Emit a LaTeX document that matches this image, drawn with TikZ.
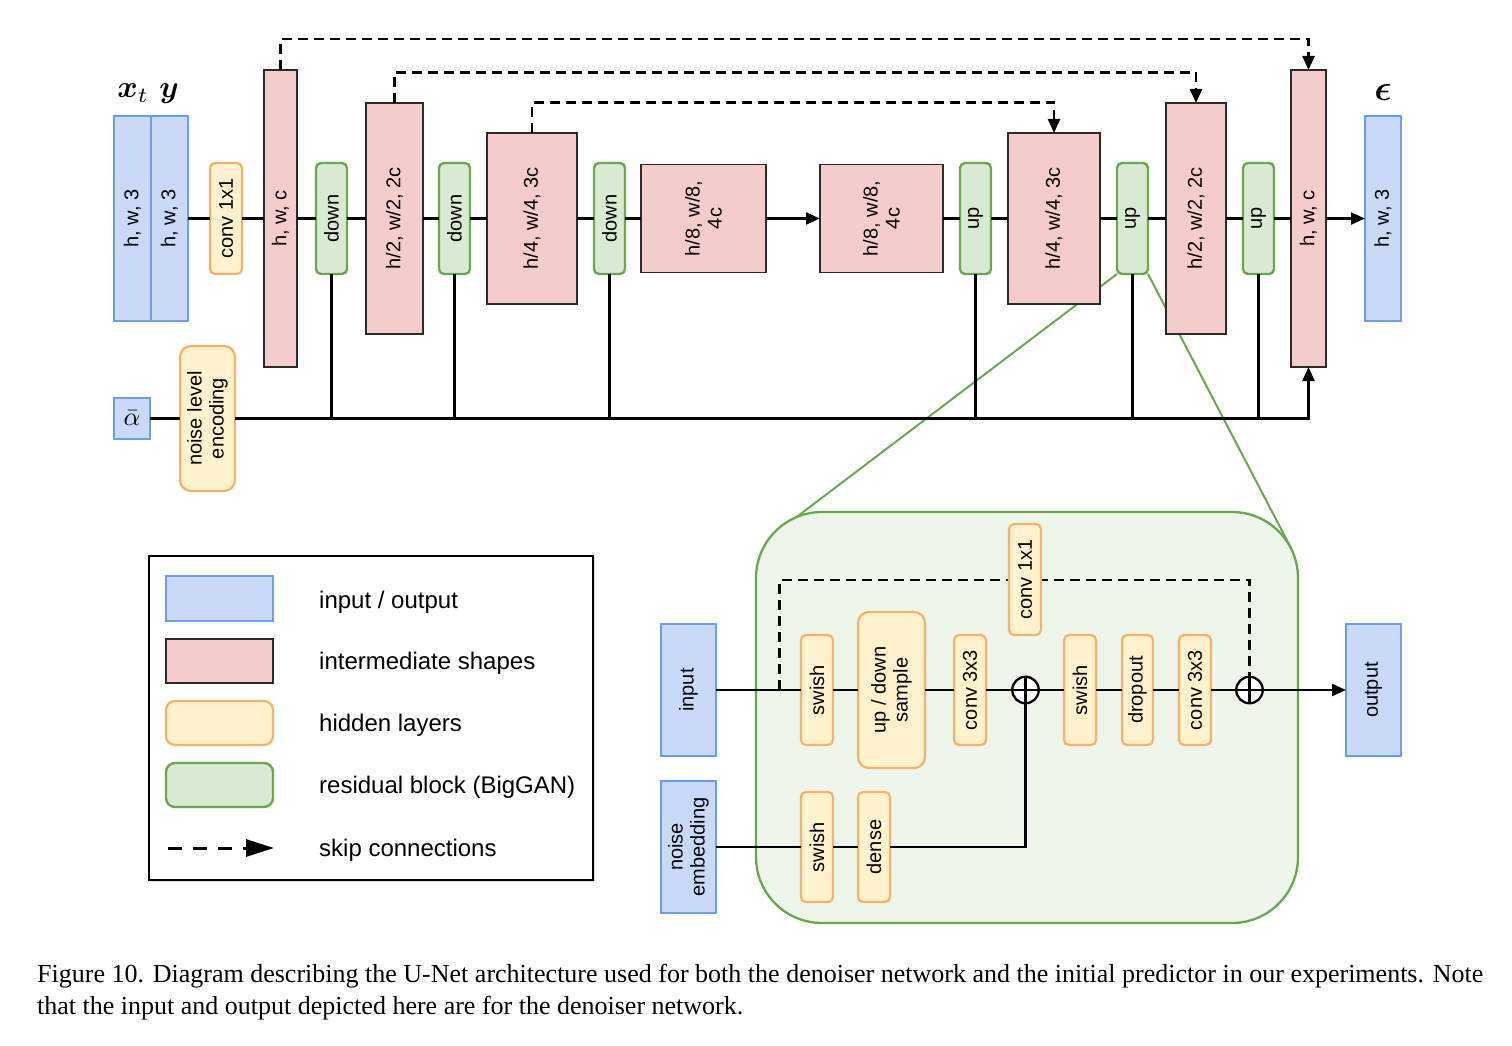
\documentclass[tikz,border=0pt]{standalone}
\usepackage{amsmath}
\usepackage{graphicx}
\usepackage{fontspec}
\setmainfont{Liberation Serif}
\setsansfont{Liberation Sans}
\usetikzlibrary{arrows.meta,shadows}

\definecolor{iofill}{HTML}{C9DAF8}
\definecolor{ioline}{HTML}{6D9EEB}
\definecolor{shpfill}{HTML}{F4CCCC}
\definecolor{shpline}{HTML}{2B2B2B}
\definecolor{hidfill}{HTML}{FFF2CC}
\definecolor{hidline}{HTML}{F6B26B}
\definecolor{resfill}{HTML}{D9EAD3}
\definecolor{resline}{HTML}{6AA84F}
\definecolor{zoomfill}{HTML}{EEF5EA}

\pgfdeclarelayer{bg}
\pgfsetlayers{bg,main}

\tikzset{
  box/.style={inner sep=0pt, outer sep=0pt},
  io/.style={box, draw=ioline, fill=iofill, line width=2.2pt},
  shp/.style={box, draw=shpline, fill=shpfill, line width=1.6pt},
  hid/.style={box, draw=hidline, fill=hidfill, line width=2.2pt, rounded corners=5pt},
  hidbig/.style={hid, rounded corners=11pt},
  res/.style={box, draw=resline, fill=resfill, line width=2.4pt, rounded corners=5pt},
  lbl/.style={rotate=90, align=center, inner sep=0pt, font=\sffamily\fontsize{20}{22}\selectfont},
  conn/.style={line width=2.3pt},
  tip/.style={-{Triangle[length=14pt,width=12pt]}},
  skipline/.style={line width=2.4pt, dash pattern=on 10pt off 6pt},
  plus/.style={circle, draw, fill=white, line width=2.3pt, minimum size=26.5pt, inner sep=0pt,
    path picture={\draw[line width=2.2pt]
      (path picture bounding box.north) -- (path picture bounding box.south)
      (path picture bounding box.west) -- (path picture bounding box.east);}},
  lgtext/.style={anchor=base west, inner sep=0pt, font=\sffamily\fontsize{24}{28}\selectfont},
  mathlbl/.style={anchor=base, inner sep=0pt},
  captext/.style={anchor=base west, inner sep=0pt, font=\rmfamily\fontsize{26}{30}\selectfont},
}

% block: style, name, x1, y1, x2, y2, rotated label
\newcommand\ublock[7]{%
  \node[#1, minimum width={#5-#3}, minimum height={#6-#4}] (#2) at ({(#3+#5)/2},{(#4+#6)/2}) {};
  \node[lbl] (#2-t) at (#2.center) {#7};}

\begin{document}
\begin{tikzpicture}[x=1pt, y=-1pt]
\useasboundingbox (0,0) rectangle (1512,1046);

% ---------------- U-Net ----------------
\ublock{io}{xt}{114}{116}{151}{321}{h, w, 3}
\ublock{io}{yb}{151}{116}{188}{321}{h, w, 3}
\ublock{hid}{conv}{210}{163}{242}{274}{conv 1x1}
\ublock{shp}{s1}{264}{70}{297}{367}{h, w, c}
\ublock{res}{d1}{316}{163}{347}{274}{down}
\ublock{shp}{s2}{366}{103}{423}{334}{h/2, w/2, 2c}
\ublock{res}{d2}{439}{163}{470}{274}{down}
\ublock{shp}{s3}{487}{133}{577}{304}{h/4, w/4, 3c}
\ublock{res}{d3}{594}{163}{625}{274}{down}
\ublock{shp}{s4}{641}{164.5}{766}{272.5}{h/8, w/8,\\4c}
\ublock{shp}{s5}{820}{164.5}{943}{272.5}{h/8, w/8,\\4c}
\ublock{res}{u1}{960}{163}{991}{274}{up}
\ublock{shp}{s6}{1008}{133}{1100}{304}{h/4, w/4, 3c}
\ublock{res}{u2}{1117}{163}{1148}{274}{up}
\ublock{shp}{s7}{1166}{103}{1226}{334}{h/2, w/2, 2c}
\ublock{res}{u3}{1243}{163}{1274}{274}{up}
\ublock{shp}{s8}{1291}{70}{1326}{367}{h, w, c}
\ublock{io}{eps}{1365}{116}{1401}{321}{h, w, 3}
\ublock{hidbig}{nle}{180}{346}{235}{491}{noise level\\encoding}

\node[io, minimum width=36, minimum height=41] (alpha) at (132,418.5) {};
\node[inner sep=0pt] (alpha-t) at (alpha.center) {\scalebox{2.6}{$\bar{\alpha}$}};

\node[mathlbl] (xtl) at (133,98) {\scalebox{3.1}{$\boldsymbol{x}_t$}};
\node[mathlbl] (yl) at (169,98) {\scalebox{3.1}{$\boldsymbol{y}$}};
\node[mathlbl] (epsl) at (1383,101) {\scalebox{3.6}{$\boldsymbol{\epsilon}$}};

% main path
\foreach \a/\b in {yb/conv, conv/s1, s1/d1, d1/s2, s2/d2, d2/s3, s3/d3, d3/s4,
                   s5/u1, u1/s6, s6/u2, u2/s7, s7/u3, u3/s8}
  \draw[conn] (\a.east) -- (\b.west);
\draw[conn, tip] (s4.east) -- (s5.west);
\draw[conn, tip] (s8.east) -- (eps.west);

% noise level path
\draw[conn] (alpha.east) -- (nle.west);
\draw[conn, tip] (nle.east) -| (s8.south);
\foreach \b in {d1, d2, d3, u1, u2, u3}
  \draw[conn] (\b.south) -- (\b.south |- alpha.east);

% skip connections
\coordinate (k1) at (0,39);
\coordinate (k2) at (0,72.5);
\coordinate (k3) at (0,102.5);
\draw[skipline, tip] (s1.north) -- (s1.north |- k1) -| (s8.north);
\draw[skipline, tip] (s2.north) -- (s2.north |- k2) -| (s7.north);
\draw[skipline, tip] (s3.north) -- (s3.north |- k3) -| (s6.north);

% ---------------- residual block detail ----------------
\node[box, draw=resline, fill=zoomfill, line width=2.3pt, rounded corners=66pt,
      minimum width=542, minimum height=411] (rb) at (1027,717.5) {};

\coordinate (zl) at (790,522);
\coordinate (zr) at (1292,550);
\begin{pgfonlayer}{bg}
  \draw[resline, line width=2pt] (u2.south west) -- (zl);
  \draw[resline, line width=2pt] (u2.south east) -- (zr);
\end{pgfonlayer}

\ublock{io}{inp}{661}{624}{716}{756}{input}
\ublock{io}{nemb}{661}{781}{716}{913}{noise\\embedding}
\ublock{hid}{sw1}{801}{635}{833}{745}{swish}
\ublock{hidbig}{uds}{858}{612}{925}{768}{up / down\\sample}
\ublock{hid}{ca}{954}{635}{986}{745}{conv 3x3}
\node[plus] (p1) at (1025.5,690) {};
\ublock{hid}{sw2}{1064}{635}{1096}{745}{swish}
\ublock{hid}{drp}{1122}{635}{1153}{745}{dropout}
\ublock{hid}{cb}{1179}{635}{1211}{745}{conv 3x3}
\node[plus] (p2) at (1249.5,690) {};
\ublock{io}{outp}{1346}{624}{1401}{756}{output}
\ublock{hid}{sw3}{801}{792}{833}{902}{swish}
\ublock{hid}{dns}{858}{792}{890}{902}{dense}

\foreach \a/\b in {inp/sw1, sw1/uds, uds/ca, ca/p1, p1/sw2, sw2/drp, drp/cb, cb/p2,
                   nemb/sw3, sw3/dns}
  \draw[conn] (\a.east) -- (\b.west);
\draw[conn, tip] (p2.east) -- (outp.west);
\draw[conn] (dns.east) -| (p1.south);

% residual shortcut, passing under the 1x1 convolution
\coordinate (sk) at (779.5,690);
\coordinate (k4) at (0,580);
\draw[skipline] (sk) -- (sk |- k4) -| (p2.north);
\ublock{hid}{c11}{1009}{524}{1041}{635}{conv 1x1}

% ---------------- legend ----------------
\node[box, draw=black, fill=white, line width=2.5pt,
      drop shadow={opacity=0.25, shadow xshift=1.5pt, shadow yshift=-1.5pt},
      minimum width=444, minimum height=324] (lg) at (371,718) {};
\node[io, minimum width=107, minimum height=45] (lg1) at (219.5,598.5) {};
\node[shp, line width=1.8pt, minimum width=107, minimum height=44] (lg2) at (219.5,661) {};
\node[hid, rounded corners=9pt, minimum width=107, minimum height=44] (lg3) at (219.5,723) {};
\node[res, rounded corners=9pt, minimum width=107, minimum height=44] (lg4) at (219.5,785) {};
\coordinate (lg5a) at (168,848);
\coordinate (lg5b) at (274,848);
\draw[line width=3pt, dash pattern=on 14pt off 11pt, -{Triangle[length=28pt,width=17pt]}] (lg5a) -- (lg5b);

\node[lgtext] (lg1-t) at (319,608) {input / output};
\node[lgtext] (lg2-t) at (319,669.5) {intermediate shapes};
\node[lgtext] (lg3-t) at (319,731.5) {hidden layers};
\node[lgtext] (lg4-t) at (319,793.5) {residual block (BigGAN)};
\node[lgtext] (lg5-t) at (319,856) {skip connections};

% ---------------- caption ----------------
\node[captext] (cap1) at (37,982) {\makebox[1446pt][s]{Figure 10. Diagram describing the U-Net architecture used for both the denoiser network and the initial predictor in our experiments. Note}};
\node[captext] (cap2) at (37,1014) {that the input and output depicted here are for the denoiser network.};
\end{tikzpicture}
\end{document}
